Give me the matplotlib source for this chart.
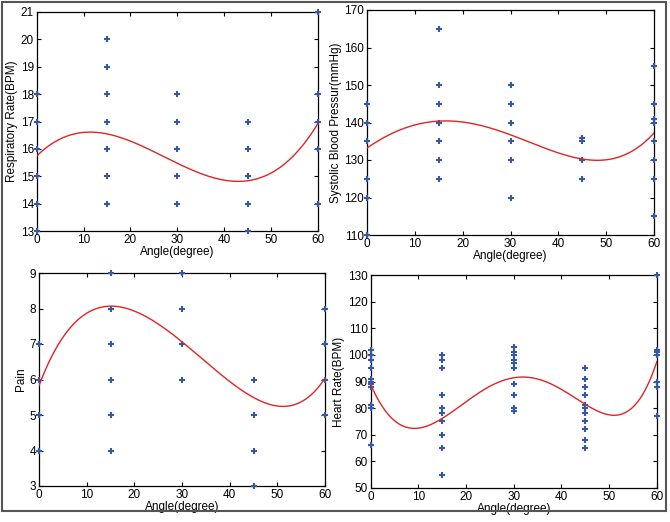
import numpy as np
import matplotlib
matplotlib.use("Agg")
import matplotlib.pyplot as plt
from matplotlib.patches import Rectangle

plt.rcParams['font.family'] = ['Liberation Sans', 'DejaVu Sans']

# ---------------- data ----------------
angles = [0, 15, 30, 45, 60]

rr_points = {
    0: [18, 17, 16, 15, 14, 13],
    15: [20, 19, 18, 17, 16, 15, 14],
    30: [18, 17, 16, 15, 14],
    45: [17, 16, 15, 14, 13],
    60: [21, 18, 17, 16, 14],
}
sbp_points = {
    0: [145, 140, 135, 125, 120, 110],
    15: [165, 150, 145, 140, 135, 130, 125],
    30: [150, 145, 140, 135, 130, 120],
    45: [136, 135, 130, 125],
    60: [155, 145, 141, 140, 135, 130, 125, 115],
}
pain_points = {
    0: [7, 6, 5, 4],
    15: [9, 8, 7, 6, 5, 4],
    30: [9, 8, 7, 6],
    45: [6, 5, 4, 3],
    60: [8, 7, 6, 5],
}
hr_points = {
    0: [102, 100, 98, 95, 91, 90, 89, 88, 81, 80, 66],
    15: [100, 98, 95, 85, 80, 78, 75, 70, 65, 55],
    30: [103, 101, 100, 98, 97, 95, 89, 85, 80, 79],
    45: [95, 91, 88, 85, 81, 80, 78, 75, 72, 68, 65],
    60: [130, 102, 101, 100, 90, 88, 77],
}

# fitted trend curves, every 5 degrees
curve_x = [0, 5, 10, 15, 20, 25, 30, 35, 40, 45, 50, 55, 60]
rr_curve = [15.74, 16.36, 16.60, 16.55, 16.28, 15.90, 15.47, 15.10, 14.86, 14.83, 15.12, 15.79, 16.93]
sbp_curve = [133.4, 136.6, 139.2, 140.5, 140.4, 139.3, 136.2, 133.8, 132.0, 130.5, 130.2, 131.9, 137.2]
pain_curve = [5.82, 7.22, 7.83, 8.04, 7.97, 7.61, 7.00, 6.48, 5.96, 5.52, 5.24, 5.36, 6.04]
hr_curve = [89.0, 74.8, 72.6, 76.8, 82.0, 87.9, 91.5, 91.0, 87.3, 81.0, 77.9, 80.1, 97.5]

x_ticks = [0, 10, 20, 30, 40, 50, 60]
rr_ticks = [13, 14, 15, 16, 17, 18, 19, 20, 21]
sbp_ticks = [110, 120, 130, 140, 150, 160, 170]
pain_ticks = [3, 4, 5, 6, 7, 8, 9]
hr_ticks = [50, 60, 70, 80, 90, 100, 110, 120, 130]

x_label = "Angle(degree)"
y_labels = ["Respiratory Rate(BPM)", "Systolic Blood Pressur(mmHg)", "Pain", "Heart Rate(BPM)"]

# ---------------- drawing ----------------
W, H = 670, 522
fig = plt.figure(figsize=(W / 100, H / 100), dpi=100)
fig.patch.set_facecolor('white')

def px_rect(l, r, t, b):
    return [l / W, (H - b) / H, (r - l) / W, (b - t) / H]

panels = [
    (px_rect(36.7, 318, 12, 231), rr_points, rr_curve, rr_ticks, y_labels[0], 4),
    (px_rect(367, 654, 10, 235), sbp_points, sbp_curve, sbp_ticks, y_labels[1], 4),
    (px_rect(39, 325, 273, 486), pain_points, pain_curve, pain_ticks, y_labels[2], 5),
    (px_rect(370.7, 656.8, 275, 488), hr_points, hr_curve, hr_ticks, y_labels[3], 5),
]

blue = '#3558a8'
red = '#e02424'

for rect, pts, curve, yt, ylab, deg in panels:
    ax = fig.add_axes(rect)
    xs, ys = [], []
    for a in angles:
        for v in pts[a]:
            xs.append(a)
            ys.append(v)
    ax.plot(xs, ys, linestyle='none', marker='+', markersize=4.8,
            markeredgewidth=1.5, color=blue, clip_on=False, zorder=3)
    coef = np.polyfit(curve_x, curve, deg)
    xx = np.linspace(0, 60, 300)
    ax.plot(xx, np.polyval(coef, xx), color=red, lw=1.0, zorder=4)
    ax.set_xlim(0, 60)
    ax.set_ylim(yt[0], yt[-1])
    ax.set_xticks(x_ticks)
    ax.set_yticks(yt)
    ax.tick_params(direction='in', length=3, width=0.8, top=True, right=True,
                   labelsize=8.5, pad=2, colors='black')
    for s in ax.spines.values():
        s.set_linewidth(0.9)
        s.set_color('black')
    ax.set_xlabel(x_label, fontsize=8.5, labelpad=0)
    ax.set_ylabel(ylab, fontsize=8.5, labelpad=2)

# outer frame
fig.add_artist(Rectangle((1.5 / W, (H - 511) / H), (666 - 1.5) / W, (511 - 1.5) / H,
                         transform=fig.transFigure, fill=False,
                         edgecolor='#555555', linewidth=1.5))

fig.savefig('out.png', dpi=100)
